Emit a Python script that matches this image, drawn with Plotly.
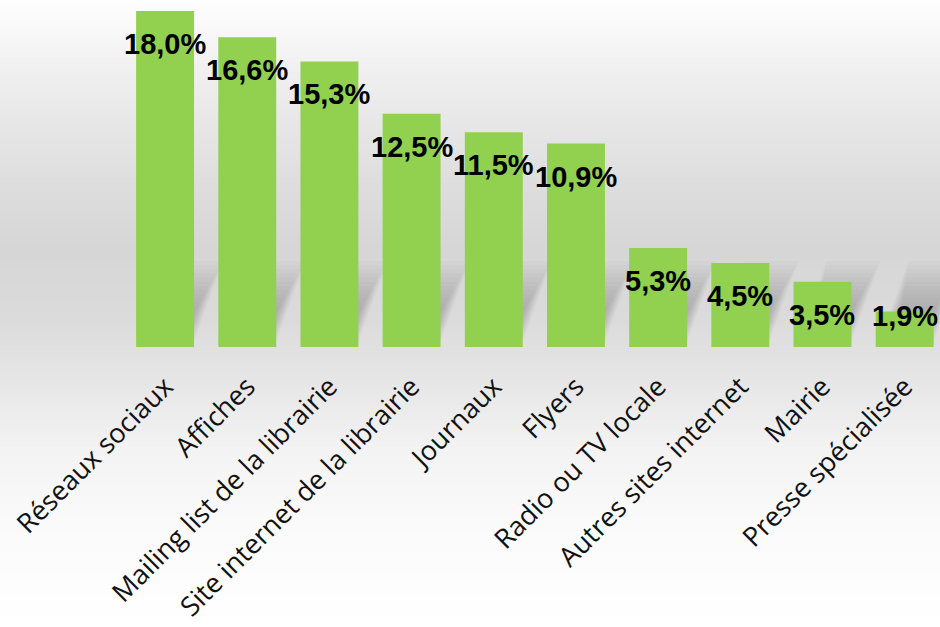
import plotly.graph_objects as go

categories = ["Réseaux sociaux", "Affiches", "Mailing list de la librairie",
              "Site internet de la librairie", "Journaux", "Flyers",
              "Radio ou TV locale", "Autres sites internet", "Mairie",
              "Presse spécialisée"]
values = [18.0, 16.6, 15.3, 12.5, 11.5, 10.9, 5.3, 4.5, 3.5, 1.9]
value_labels = ["18,0%", "16,6%", "15,3%", "12,5%", "11,5%", "10,9%",
                "5,3%", "4,5%", "3,5%", "1,9%"]

W, H = 940, 627
ML, MR, MT, MB = 124, 0, 11, 280
plot_h = H - MT - MB
XMAX = 9.43
BAR_W = 0.705

fig = go.Figure()
fig.add_trace(go.Bar(
    x=categories, y=values, marker=dict(color="#92D050", line=dict(width=0)),
    width=BAR_W, hoverinfo="skip"))

# label placement (pixels below the bar top, clamped near the baseline)
px_per_unit = plot_h / 18.0
for c, v, t in zip(categories, values, value_labels):
    ly = max(v - 33 / px_per_unit, 31 / px_per_unit)
    fig.add_annotation(x=c, y=ly, text=t, showarrow=False, xanchor="center",
                       yanchor="middle",
                       font=dict(family="Liberation Sans", size=29, color="#000000",
                                 weight="bold"))

# background vertical gradient (pixel stops)
stops = [(0, 254), (80, 238), (180, 222), (250, 214), (320, 219), (380, 230),
         (450, 243), (520, 250), (627, 255)]
def grey_at(py):
    for (a, ga), (b, gb) in zip(stops[:-1], stops[1:]):
        if a <= py <= b:
            f = (py - a) / (b - a)
            return round(ga + (gb - ga) * f)
    return 255
step = 3
shapes = []
for py in range(0, H, step):
    g = grey_at(py + step / 2)
    y0 = 1 - (py + step + 0.5) / H
    y1 = 1 - py / H
    shapes.append(dict(type="rect", xref="paper", yref="paper", layer="below",
                       x0=-ML / (W - ML - MR), x1=1 + MR / (W - ML - MR) + 0.01,
                       y0=(y0 * H - MB) / plot_h, y1=(y1 * H - MB) / plot_h,
                       fillcolor=f"rgb({g},{g},{g})", line=dict(width=0)))

# soft perspective shadows behind the bars (decoration, layered to fake blur)
px_per_cat = (W - ML - MR) / (XMAX + 0.5)
layers = 12
for i in range(len(categories)):
    for k in range(layers):
        f = k / (layers - 1)
        hsp = 86 - 46 * f
        dxp = hsp * 0.36
        shrink = 2 + 10 * f
        dx = dxp / px_per_cat
        hs = hsp / px_per_unit
        s = shrink / px_per_cat
        x0 = i - BAR_W / 2 + s
        x1 = i + BAR_W / 2 - s
        path = (f"M {x0},0 L {x1},0 L {x1 + dx},{hs} L {x0 + dx},{hs} Z")
        shapes.append(dict(type="path", xref="x", yref="y", layer="below",
                           path=path, fillcolor="rgba(80,80,80,0.03)",
                           line=dict(width=0)))

fig.update_layout(
    width=W, height=H,
    margin=dict(l=ML, r=MR, t=MT, b=MB, pad=0),
    paper_bgcolor="rgba(0,0,0,0)", plot_bgcolor="rgba(0,0,0,0)",
    showlegend=False, bargap=0.3, shapes=shapes,
    xaxis=dict(range=[-0.5, XMAX], tickangle=-45, showgrid=False, zeroline=False,
               showline=False, ticks="outside", ticklen=0, ticklabelstandoff=12,
               tickfont=dict(family="Open Sans", size=27, color="#111111")),
    yaxis=dict(range=[0, 18.0], visible=False, showgrid=False, zeroline=False),
)
fig.write_html("out.html", config={"displayModeBar": False},
               post_script="document.body.style.margin='0';document.body.style.overflow='hidden';")
